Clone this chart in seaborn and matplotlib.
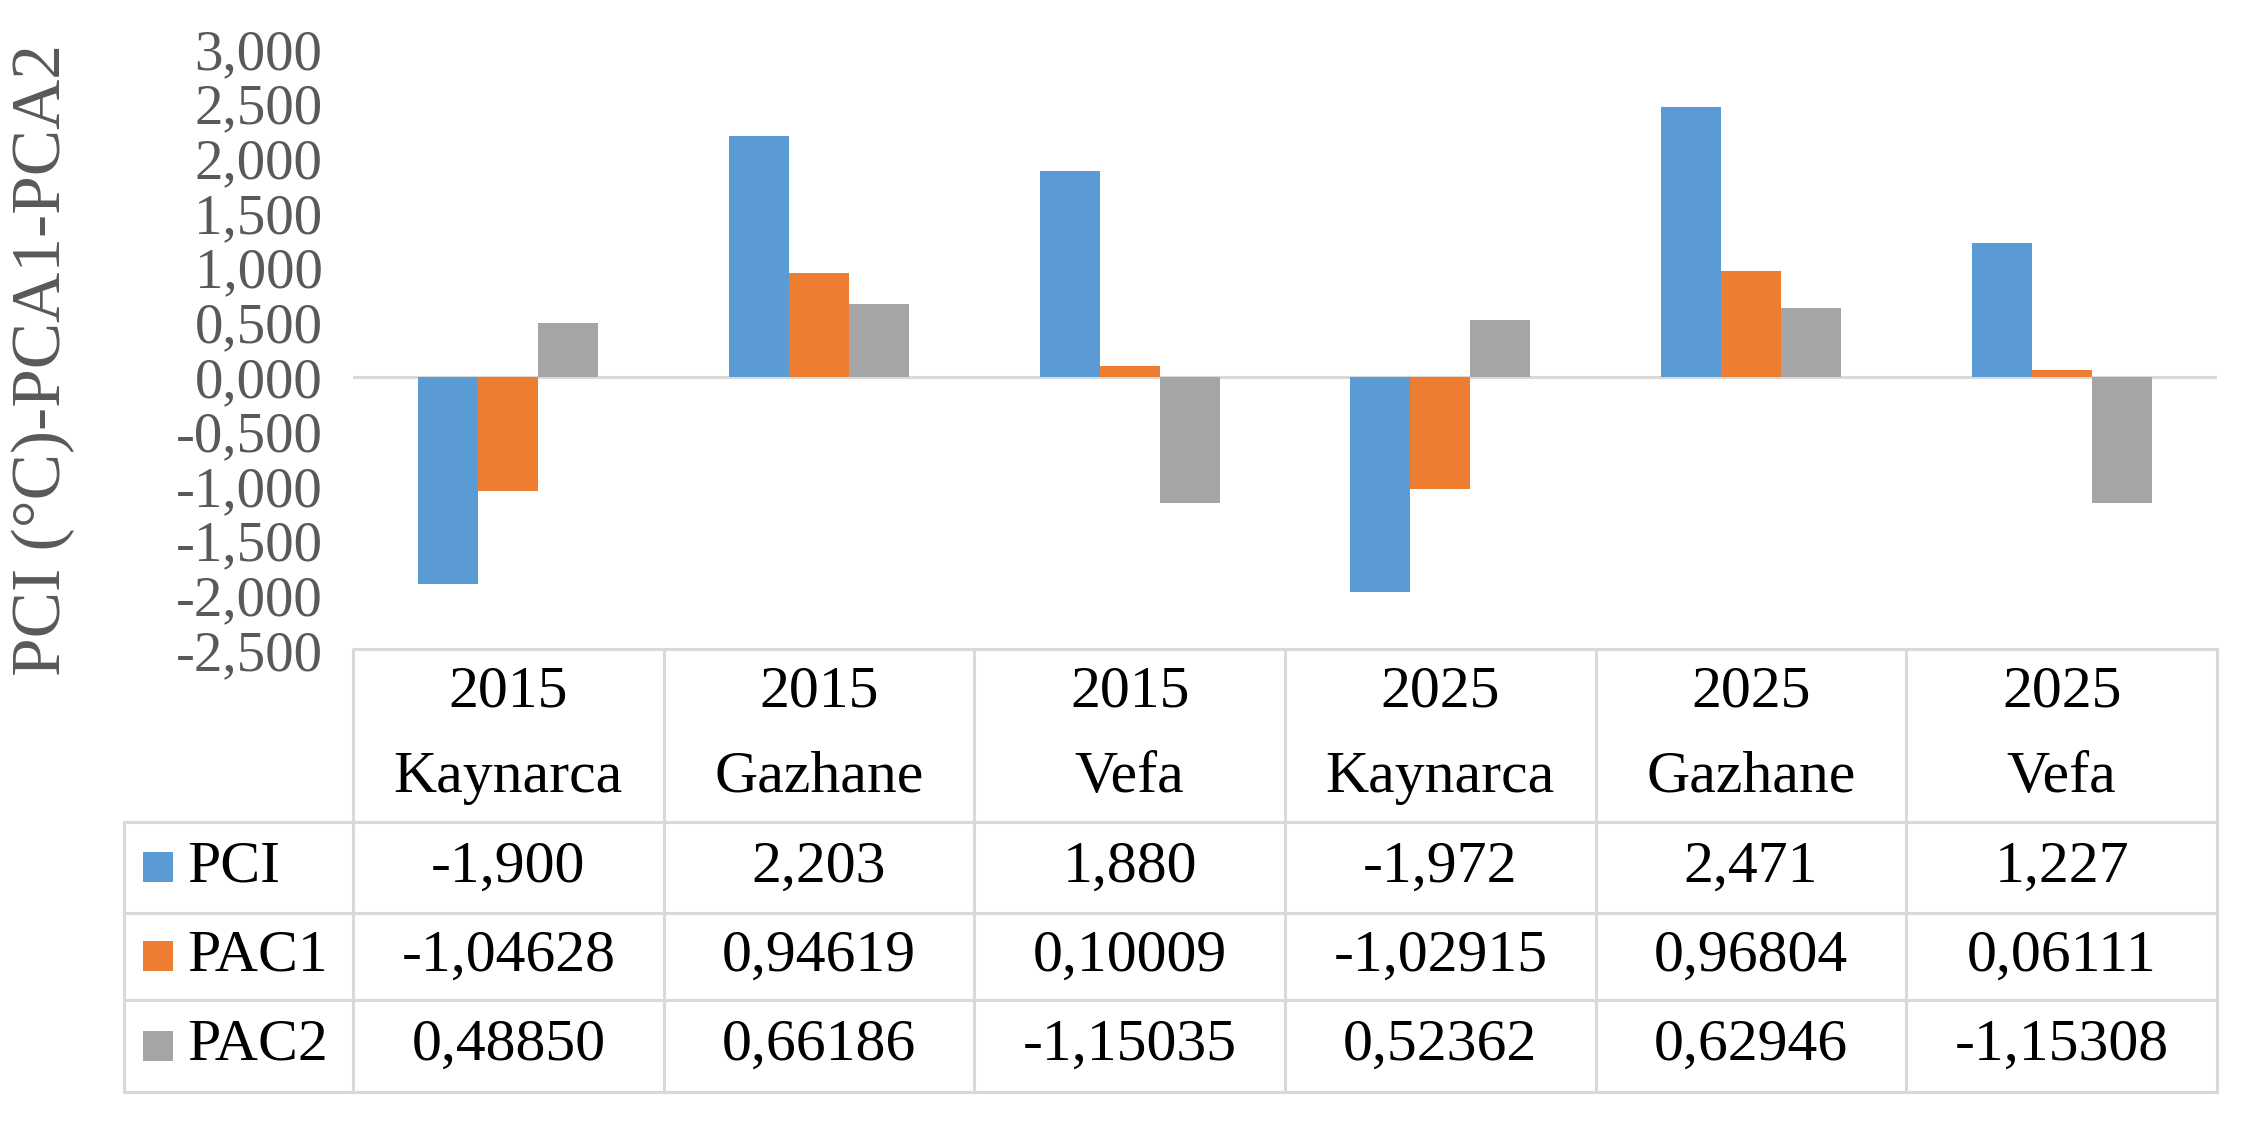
import matplotlib
matplotlib.use("Agg")
import matplotlib.pyplot as plt
import seaborn as sns
import pandas as pd
from matplotlib.patches import Rectangle
from matplotlib.ticker import FuncFormatter, MultipleLocator

# ---------------- data ----------------
years = ["2015", "2015", "2015", "2025", "2025", "2025"]
sites = ["Kaynarca", "Gazhane", "Vefa", "Kaynarca", "Gazhane", "Vefa"]
series_names = ["PCI", "PAC1", "PAC2"]
pci = [-1.900, 2.203, 1.880, -1.972, 2.471, 1.227]
pac1 = [-1.04628, 0.94619, 0.10009, -1.02915, 0.96804, 0.06111]
pac2 = [0.48850, 0.66186, -1.15035, 0.52362, 0.62946, -1.15308]
decimals = [3, 5, 5]
colors = ["#5B9BD5", "#ED7D31", "#A5A5A5"]
ylabel = "PCI (°C)-PCA1-PCA2"

categories = [f"{y}\n{s}" for y, s in zip(years, sites)]
values = [pci, pac1, pac2]
rows = []
for name, vals in zip(series_names, values):
    for c, v in zip(categories, vals):
        rows.append({"cat": c, "series": name, "value": v})
df = pd.DataFrame(rows)

# ---------------- figure ----------------
sns.set_theme(style="white")
plt.rcParams["font.family"] = ["Liberation Serif", "DejaVu Serif"]
plt.rcParams["axes.unicode_minus"] = False

W, H = 2261, 1122
fig = plt.figure(figsize=(W / 100, H / 100), dpi=100)
fig.patch.set_facecolor("white")

x0, x1 = 353, 2217
y_top, y_bot = 49, 650
ax = fig.add_axes([x0 / W, 1 - y_bot / H, (x1 - x0) / W, (y_bot - y_top) / H])

sns.barplot(data=df, x="cat", y="value", hue="series", order=categories,
            hue_order=series_names, palette=colors, saturation=1,
            width=0.58, gap=0, ax=ax, legend=False, edgecolor="none",
            errorbar=None)

ax.set_xlim(-0.5, 5.5)
ax.set_ylim(-2.5, 3.0)
ax.yaxis.set_major_locator(MultipleLocator(0.5))
ax.yaxis.set_major_formatter(FuncFormatter(lambda v, p: f"{v:.3f}".replace(".", ",")))
ax.tick_params(axis="y", labelsize=41, colors="#595959", length=0, pad=22)
ax.tick_params(axis="x", bottom=False, labelbottom=False)
ax.set_xlabel("")
ax.set_ylabel("")
for s in ax.spines.values():
    s.set_visible(False)
ax.axhline(0, color="#D9D9D9", lw=2.2, zorder=0.5)

fig.text(43 / W, 1 - 360 / H, ylabel, rotation=90, ha="center", va="center",
         fontsize=50, color="#595959")

# ---------------- data table ----------------
tab_left = 124
t_top, t_hdr, t_bot = 649, 822, 1092
row_edges = [822, 913, 1000, 1092]
unit = (x1 - x0) / 6.0
left_units = -0.5 - (x0 - tab_left) / unit
tax = fig.add_axes([tab_left / W, 1 - t_bot / H, (x1 - tab_left) / W, (t_bot - t_top) / H])
tax.set_xlim(left_units, 5.5)
tax.set_ylim(t_bot, t_top)
tax.axis("off")

lc = "#D9D9D9"
lw = 2.2
# horizontal lines
tax.plot([-0.5, 5.5], [t_top, t_top], color=lc, lw=lw, clip_on=False)
for y in row_edges:
    tax.plot([left_units, 5.5], [y, y], color=lc, lw=lw, clip_on=False)
# vertical lines
tax.plot([left_units, left_units], [t_hdr, t_bot], color=lc, lw=lw, clip_on=False)
for i in range(7):
    xv = -0.5 + i
    tax.plot([xv, xv], [t_top, t_bot], color=lc, lw=lw, clip_on=False)

fs = 43
for i, (yr, st) in enumerate(zip(years, sites)):
    tax.text(i, 693, yr, ha="center", va="center", fontsize=fs, color="black")
    tax.text(i, 778, st, ha="center", va="center", fontsize=fs, color="black")

px_unit = unit  # pixels per data unit
for r, (name, vals, dec, col) in enumerate(zip(series_names, values, decimals, colors)):
    yc = (row_edges[r] + row_edges[r + 1]) / 2
    for i, v in enumerate(vals):
        tax.text(i, yc, f"{v:.{dec}f}".replace(".", ","), ha="center", va="center",
                 fontsize=fs, color="black")
    # legend key
    kx = left_units + (143 - tab_left) / px_unit
    tax.add_patch(Rectangle((kx, yc - 15), 30 / px_unit, 30, facecolor=col,
                            edgecolor="none", clip_on=False))
    tax.text(left_units + (187 - tab_left) / px_unit, yc, name, ha="left",
             va="center", fontsize=fs, color="black")

fig.savefig("out.png", dpi=100, facecolor="white")
